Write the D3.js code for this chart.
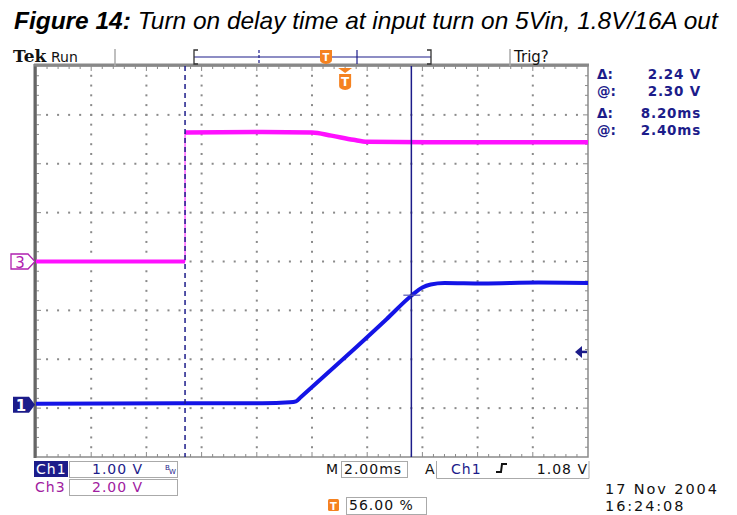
<!DOCTYPE html>
<html><head><meta charset="utf-8">
<script src="https://cdn.jsdelivr.net/npm/d3@7/dist/d3.min.js"></script>
<style>
html,body{margin:0;padding:0;background:#fff;}
svg{display:block;}
</style></head>
<body>
<svg id="c" width="737" height="515"></svg>
<script>
// ---- data (time in ms relative to trigger, volts) ----
const ch1Time = [-11.2, -6.0, -3.0, -2.0, -1.78, -1.6, 0.0, 1.5, 2.42, 2.8, 3.1, 3.6, 5.0, 7.0, 8.8];
const ch1Volts = [0.02, 0.03, 0.03, 0.05, 0.07, 0.16, 0.97, 1.75, 2.24, 2.40, 2.46, 2.49, 2.48, 2.50, 2.49];
const ch3Time = [-11.2, -5.8, -5.8, -3.0, -1.2, -0.5, 0.3, 0.8, 3.0, 8.8];
const ch3Volts = [0.00, 0.00, 5.28, 5.30, 5.28, 5.15, 4.98, 4.90, 4.88, 4.88];
const cursorTimes = [-5.8, 2.4];          // dashed, solid
const triggerLevel = 1.08;                 // V on Ch1
const ch1Scale = 1.0, ch3Scale = 2.0;      // V/div
const ch1Offset = -2.93, ch3Offset = 0;    // divisions
const readoutLabels = ["\u0394:", "@:", "\u0394:", "@:"];
const readoutValues = ["2.24 V", "2.30 V", "8.20ms", "2.40ms"];
const timeDomain = [-11.2, 8.8];           // 10 div x 2.00 ms, trigger at 56%

const svg = d3.select("#c");
const L = 36, R = 588, T = 66, B = 457;
const x = d3.scaleLinear().domain(timeDomain).range([L, R]);
const yDiv = d3.scaleLinear().domain([-4, 4]).range([B, T]);
const y1 = v => yDiv(v / ch1Scale + ch1Offset);
const y3 = v => yDiv(v / ch3Scale + ch3Offset);

const NAVY = "#1c1c8a", TRACE1 = "#1414e6", MAG = "#ff10ff", ORANGE = "#f58220", GRAY = "#8a8a8a";
const MONO = "'DejaVu Sans', Verdana, sans-serif";

// ---- title ----
const title = svg.append("text").attr("x", 14).attr("y", 29)
  .style("font-family", "'Liberation Sans', Arial, sans-serif").style("font-size", "23px").style("font-style", "italic");
title.append("tspan").style("font-weight", "bold").text("Figure 14:");
title.append("tspan").text(" Turn on delay time at input turn on 5Vin, 1.8V/16A out");
const tw = title.node().getComputedTextLength();
title.attr("transform", `translate(14,0) scale(${704 / tw},1) translate(-14,0)`);

// ---- graticule ----
const g = svg.append("g");
const divW = (R - L) / 10, divH = (B - T) / 8;
for (let k = 1; k < 10; k++) {
  const gx = L + k * divW;
  for (let j = 1; j < 40; j++) g.append("rect").attr("x", gx - 1).attr("y", T + j * divH / 5 - 1).attr("width", 2).attr("height", 2).attr("fill", GRAY);
}
for (let k = 1; k < 8; k++) {
  const gy = T + k * divH;
  for (let i = 1; i < 50; i++) g.append("rect").attr("x", L + i * divW / 5 - 1).attr("y", gy - 1).attr("width", 2).attr("height", 2).attr("fill", GRAY);
}
for (let i = 1; i < 50; i++) {
  const tx = L + i * divW / 5, len = (i % 5 === 0) ? 5 : 3;
  g.append("line").attr("x1", tx).attr("x2", tx).attr("y1", T).attr("y2", T + len).attr("stroke", GRAY);
  g.append("line").attr("x1", tx).attr("x2", tx).attr("y1", B).attr("y2", B - len).attr("stroke", GRAY);
}
for (let j = 1; j < 40; j++) {
  const ty = T + j * divH / 5, len = (j % 5 === 0) ? 5 : 3;
  g.append("line").attr("y1", ty).attr("y2", ty).attr("x1", L).attr("x2", L + len).attr("stroke", GRAY);
  g.append("line").attr("y1", ty).attr("y2", ty).attr("x1", R).attr("x2", R - len).attr("stroke", GRAY);
}
g.append("rect").attr("x", L).attr("y", T).attr("width", R - L).attr("height", B - T).attr("fill", "none").attr("stroke", GRAY).attr("stroke-width", 1.5);
g.append("line").attr("x1", L - 1).attr("x2", L - 1).attr("y1", T - 2).attr("y2", B + 1).attr("stroke", "#666").attr("stroke-width", 3);
g.append("line").attr("x1", L - 2).attr("x2", R + 1).attr("y1", T - 1).attr("y2", T - 1).attr("stroke", "#888").attr("stroke-width", 3);

// ---- traces ----
const ch3Pts = ch3Time.map((t, i) => [x(t), y3(ch3Volts[i])]);
const ch1Pts = ch1Time.map((t, i) => [x(t), y1(ch1Volts[i])]);
svg.append("path").attr("d", d3.line()(ch3Pts.slice(1, 3))).attr("fill", "none").attr("stroke", MAG).attr("stroke-width", 1);
svg.append("path").attr("d", d3.line()(ch3Pts.slice(0, 2))).attr("fill", "none").attr("stroke", MAG).attr("stroke-width", 4);
svg.append("path").attr("d", d3.line().curve(d3.curveMonotoneX)(ch3Pts.slice(2))).attr("fill", "none").attr("stroke", MAG).attr("stroke-width", 4.5);
svg.append("path").attr("d", d3.line().curve(d3.curveMonotoneX)(ch1Pts)).attr("fill", "none").attr("stroke", TRACE1).attr("stroke-width", 4);

// ---- cursors ----
svg.append("line").attr("x1", x(cursorTimes[0])).attr("x2", x(cursorTimes[0])).attr("y1", T).attr("y2", B)
  .attr("stroke", NAVY).attr("stroke-width", 1.5).attr("stroke-dasharray", "5,4");
svg.append("line").attr("x1", x(cursorTimes[1])).attr("x2", x(cursorTimes[1])).attr("y1", T).attr("y2", B)
  .attr("stroke", NAVY).attr("stroke-width", 1.5);
svg.append("line").attr("x1", x(cursorTimes[1]) - 8).attr("x2", x(cursorTimes[1]) + 9)
  .attr("y1", y1(2.24)).attr("y2", y1(2.24)).attr("stroke", "#5a5ab4").attr("stroke-width", 1.5).attr("opacity", 0.8);

// ---- trigger markers ----
const tx0 = x(0);
svg.append("path").attr("d", `M${tx0 - 7},${T + 2} L${tx0 + 7},${T + 2} L${tx0},${T + 7} Z`).attr("fill", ORANGE);
svg.append("path").attr("d", `M${tx0 - 6},${T + 8} L${tx0 + 6},${T + 8} L${tx0 + 6},${T + 20} Q${tx0 + 6},${T + 23} ${tx0},${T + 24} Q${tx0 - 6},${T + 23} ${tx0 - 6},${T + 20} Z`).attr("fill", ORANGE);
svg.append("text").attr("x", tx0).attr("y", T + 20).attr("text-anchor", "middle").attr("fill", "#fff")
  .style("font-family", MONO).style("font-weight", "bold").style("font-size", "12px").text("T");
const ty = y1(triggerLevel);
svg.append("path").attr("d", `M${R - 13},${ty} L${R - 6},${ty - 6} L${R - 6},${ty + 6} Z`).attr("fill", NAVY);
svg.append("line").attr("x1", R - 7).attr("x2", R - 1).attr("y1", ty).attr("y2", ty).attr("stroke", NAVY).attr("stroke-width", 2.5);

// ---- channel ground markers ----
const g3 = y3(0), g1 = y1(0);
svg.append("path").attr("d", `M11,${g3 - 7.5} L28,${g3 - 7.5} L35,${g3} L28,${g3 + 7.5} L11,${g3 + 7.5} Z`)
  .attr("fill", "#fff").attr("stroke", "#b020b0").attr("stroke-width", 1.3);
svg.append("text").attr("x", 20).attr("y", g3 + 6).attr("text-anchor", "middle").attr("fill", "#b020b0")
  .style("font-family", MONO).style("font-size", "15px").text("3");
svg.append("path").attr("d", `M13,${g1 - 8} L29,${g1 - 8} L35,${g1} L29,${g1 + 8} L13,${g1 + 8} Z`).attr("fill", NAVY);
svg.append("text").attr("x", 21).attr("y", g1 + 6).attr("text-anchor", "middle").attr("fill", "#fff")
  .style("font-family", MONO).style("font-weight", "bold").style("font-size", "15px").text("1");

// ---- top bar ----
svg.append("text").attr("x", 13).attr("y", 62).style("font-family", "'DejaVu Serif', serif").style("font-weight", "bold").style("font-size", "17px").attr("fill", "#111").text("Tek");
svg.append("text").attr("x", 51).attr("y", 62).style("font-family", MONO).style("font-size", "14px").attr("fill", "#111").text("Run");
svg.append("line").attr("x1", 115).attr("x2", 115).attr("y1", 49).attr("y2", 66).attr("stroke", "#aaa").attr("stroke-width", 1.5);
svg.append("line").attr("x1", 510).attr("x2", 510).attr("y1", 49).attr("y2", 66).attr("stroke", "#aaa").attr("stroke-width", 1.5);
svg.append("text").attr("x", 514).attr("y", 62).style("font-family", MONO).style("font-size", "15px").attr("fill", "#111").text("Trig?");
const bx0 = 194, bx1 = 431, by = 57;
svg.append("line").attr("x1", bx0).attr("x2", bx1).attr("y1", by).attr("y2", by).attr("stroke", NAVY).attr("stroke-width", 1.2);
svg.append("path").attr("d", `M${bx0 + 4},50 L${bx0},50 L${bx0},64 L${bx0 + 4},64`).attr("fill", "none").attr("stroke", "#333").attr("stroke-width", 1.3);
svg.append("path").attr("d", `M${bx1 - 4},50 L${bx1},50 L${bx1},64 L${bx1 - 4},64`).attr("fill", "none").attr("stroke", "#333").attr("stroke-width", 1.3);
svg.append("line").attr("x1", 259).attr("x2", 259).attr("y1", 50).attr("y2", 64).attr("stroke", NAVY).attr("stroke-width", 1.2).attr("stroke-dasharray", "3,2");
svg.append("line").attr("x1", 357).attr("x2", 357).attr("y1", 50).attr("y2", 64).attr("stroke", NAVY).attr("stroke-width", 1.2);
svg.append("path").attr("d", "M320,50 L332,50 L332,60 Q332,63 326,64 Q320,63 320,60 Z").attr("fill", ORANGE);
svg.append("text").attr("x", 326).attr("y", 61).attr("text-anchor", "middle").attr("fill", "#fff")
  .style("font-family", MONO).style("font-weight", "bold").style("font-size", "10px").text("T");

// ---- readouts ----
const rY = [79, 95.5, 118, 134.5];
readoutLabels.forEach((lab, i) => {
  svg.append("text").attr("x", 597).attr("y", rY[i]).attr("fill", NAVY)
    .style("font-family", MONO).style("font-size", "13.5px").style("font-weight", "bold").text(lab);
  svg.append("text").attr("x", 701).attr("y", rY[i]).attr("text-anchor", "end").attr("fill", NAVY)
    .style("font-family", MONO).style("font-size", "13.5px").style("font-weight", "bold").style("letter-spacing", "0.8px").text(readoutValues[i]);
});

// ---- bottom status ----
const st = (xx, yy, txt, col, anchor, size, ls) => svg.append("text").attr("x", xx).attr("y", yy)
  .attr("text-anchor", anchor || "start").attr("fill", col)
  .style("font-family", MONO).style("font-size", (size || 14) + "px").style("letter-spacing", (ls || 1) + "px").text(txt);
svg.append("rect").attr("x", 34).attr("y", 461).attr("width", 34).attr("height", 16).attr("fill", NAVY);
st(36, 474, "Ch1", "#fff");
svg.append("rect").attr("x", 69.5).attr("y", 461.5).attr("width", 108).attr("height", 16).attr("fill", "none").attr("stroke", "#aaa");
st(92, 474, "1.00 V", NAVY);
svg.append("text").attr("x", 165).attr("y", 470).attr("fill", NAVY).style("font-family", MONO).style("font-size", "7px").text("B");
svg.append("text").attr("x", 169).attr("y", 474).attr("fill", NAVY).style("font-family", MONO).style("font-size", "7px").text("W");
st(35, 492, "Ch3", "#a020a0");
svg.append("rect").attr("x", 69.5).attr("y", 479.5).attr("width", 108).attr("height", 16).attr("fill", "none").attr("stroke", "#aaa");
st(92, 492, "2.00 V", "#a020a0");
st(326, 474, "M", "#111");
svg.append("rect").attr("x", 341.5).attr("y", 461.5).attr("width", 66).attr("height", 16).attr("fill", "none").attr("stroke", "#aaa");
st(344, 474, "2.00ms", "#111");
st(425, 474, "A", "#111");
svg.append("path").attr("d", "M436.5,461 L436.5,478.5 L589,478.5 L589,461").attr("fill", "none").attr("stroke", "#aaa");
st(451, 474, "Ch1", NAVY);
svg.append("path").attr("d", "M496,472 L501,472 L502,464 L507,464").attr("fill", "none").attr("stroke", "#111").attr("stroke-width", 2);
st(588, 474, "1.08 V", "#111", "end");
svg.append("rect").attr("x", 328).attr("y", 499).attr("width", 11).attr("height", 12).attr("rx", 1.5).attr("fill", ORANGE);
svg.append("text").attr("x", 333.5).attr("y", 509.5).attr("text-anchor", "middle").attr("fill", "#fff")
  .style("font-family", MONO).style("font-weight", "bold").style("font-size", "10px").text("T");
svg.append("rect").attr("x", 346.5).attr("y", 497.5).attr("width", 80).attr("height", 17).attr("fill", "none").attr("stroke", "#aaa");
st(349, 510, "56.00 %", "#111");
st(605, 494, "17 Nov 2004", "#111", "start", 14.5, 1.9);
st(605, 511, "16:24:08", "#111", "start", 14.5, 1.9);
</script>
</body></html>
